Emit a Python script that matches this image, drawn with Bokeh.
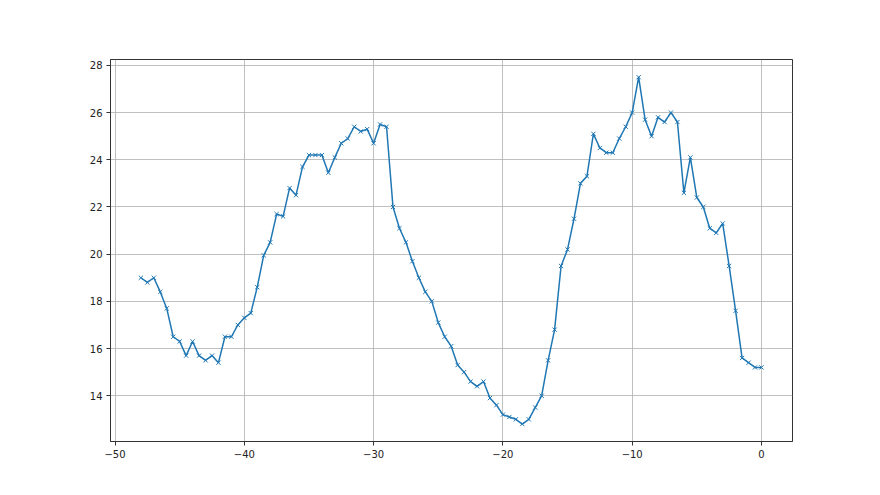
from bokeh.plotting import figure
from bokeh.models import Range1d, FixedTicker
from bokeh.embed import file_html
from bokeh.resources import INLINE

x_values = [
    -48.0, -47.5, -47.0, -46.5, -46.0, -45.5, -45.0, -44.5, -44.0, -43.5,
    -43.0, -42.5, -42.0, -41.5, -41.0, -40.5, -40.0, -39.5, -39.0, -38.5,
    -38.0, -37.5, -37.0, -36.5, -36.0, -35.5, -35.0, -34.5, -34.0, -33.5,
    -33.0, -32.5, -32.0, -31.5, -31.0, -30.5, -30.0, -29.5, -29.0, -28.5,
    -28.0, -27.5, -27.0, -26.5, -26.0, -25.5, -25.0, -24.5, -24.0, -23.5,
    -23.0, -22.5, -22.0, -21.5, -21.0, -20.5, -20.0, -19.5, -19.0, -18.5,
    -18.0, -17.5, -17.0, -16.5, -16.0, -15.5, -15.0, -14.5, -14.0, -13.5,
    -13.0, -12.5, -12.0, -11.5, -11.0, -10.5, -10.0, -9.5, -9.0, -8.5,
    -8.0, -7.5, -7.0, -6.5, -6.0, -5.5, -5.0, -4.5, -4.0, -3.5,
    -3.0, -2.5, -2.0, -1.5, -1.0, -0.5, 0.0,
]
y_values = [
    19.0, 18.8, 19.0, 18.4, 17.7, 16.5, 16.3, 15.7, 16.3, 15.7,
    15.5, 15.7, 15.4, 16.5, 16.5, 17.0, 17.3, 17.5, 18.6, 19.95,
    20.5, 21.7, 21.6, 22.8, 22.5, 23.7, 24.2, 24.2, 24.2, 23.45,
    24.1, 24.7, 24.9, 25.4, 25.2, 25.3, 24.7, 25.5, 25.4, 22.0,
    21.1, 20.5, 19.7, 19.0, 18.4, 18.0, 17.1, 16.5, 16.1, 15.3,
    15.0, 14.6, 14.4, 14.6, 13.9, 13.6, 13.2, 13.1, 13.0, 12.8,
    13.0, 13.5, 14.0, 15.5, 16.8, 19.5, 20.2, 21.5, 23.0, 23.3,
    25.1, 24.5, 24.3, 24.3, 24.9, 25.4, 26.0, 27.5, 25.7, 25.0,
    25.8, 25.6, 26.0, 25.6, 22.6, 24.1, 22.4, 22.0, 21.1, 20.9,
    21.3, 19.5, 17.6, 15.6, 15.4, 15.2, 15.2,
]
x_ticks = [-50, -40, -30, -20, -10, 0]
y_ticks = [14, 16, 18, 20, 22, 24, 26, 28]

W, H = 872, 487
p = figure(
    width=W, height=H, output_backend="svg", toolbar_location=None,
    x_range=Range1d(-50.35, 2.4), y_range=Range1d(12.06, 28.25),
    min_border_left=110, min_border_right=80, min_border_top=59, min_border_bottom=46,
)
p.background_fill_color = "white"
p.border_fill_color = "white"
p.outline_line_color = "#333333"
p.outline_line_width = 1

p.line(x_values, y_values, line_color="#1f77b4", line_width=1.5)
p.scatter(x_values, y_values, marker="x", size=6, line_color="#1f77b4", line_width=1)

for ax in (p.xaxis, p.yaxis):
    ax.axis_line_color = "#333333"
    ax.major_tick_line_color = "#333333"
    ax.major_tick_out = 4
    ax.major_tick_in = 0
    ax.minor_tick_line_color = None
    ax.major_label_text_font = "DejaVu Sans"
    ax.major_label_text_font_size = "10px"
    ax.major_label_text_color = "#222222"
    ax.major_label_standoff = 4
p.xaxis.ticker = FixedTicker(ticks=x_ticks)
p.yaxis.ticker = FixedTicker(ticks=y_ticks)

for g in (p.xgrid, p.ygrid):
    g.grid_line_color = "#b0b0b0"
    g.grid_line_width = 0.8
p.xgrid.ticker = FixedTicker(ticks=x_ticks)
p.ygrid.ticker = FixedTicker(ticks=y_ticks)

open("out.html", "w").write(file_html(p, INLINE))
